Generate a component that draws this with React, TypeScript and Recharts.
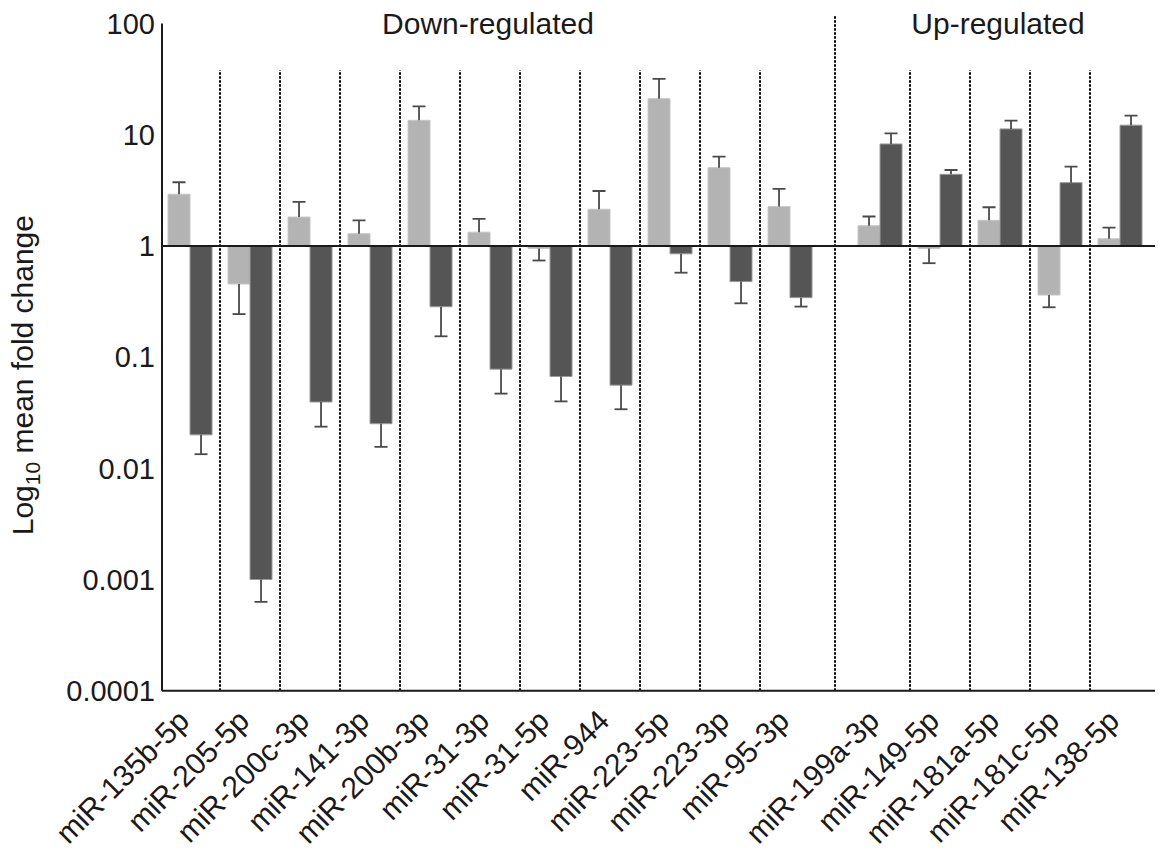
import React from 'react';
import { ComposedChart, Bar, XAxis, YAxis, ReferenceLine, ReferenceArea } from 'recharts';

// miRNAs grouped by direction of regulation
const downRegulated = [
  'miR-135b-5p', 'miR-205-5p', 'miR-200c-3p', 'miR-141-3p', 'miR-200b-3p', 'miR-31-3p',
  'miR-31-5p', 'miR-944', 'miR-223-5p', 'miR-223-3p', 'miR-95-3p',
];
const upRegulated = ['miR-199a-3p', 'miR-149-5p', 'miR-181a-5p', 'miR-181c-5p', 'miR-138-5p'];

// mean fold change and SEM, first (light) series
const lightMean = [2.92, 0.455, 1.82, 1.29, 13.5, 1.33, 0.95, 2.14, 21.1, 5.06, 2.26, 1.52, 0.95, 1.7, 0.362, 1.16];
const lightSem = [0.82, 0.211, 0.67, 0.41, 4.5, 0.42, 0.21, 0.98, 10.7, 1.29, 1.0, 0.32, 0.25, 0.53, 0.081, 0.3];

// mean fold change and SEM, second (dark) series
const darkMean = [0.02, 0.001, 0.0395, 0.0252, 0.284, 0.078, 0.067, 0.056, 0.85, 0.478, 0.343, 8.27, 4.41, 11.3, 3.71, 12.2];
const darkSem = [0.0066, 0.00037, 0.0158, 0.0096, 0.13, 0.031, 0.027, 0.022, 0.275, 0.173, 0.058, 2.03, 0.41, 2.1, 1.46, 2.7];

const yTicks = [0.0001, 0.001, 0.01, 0.1, 1, 10, 100];

const categories = [...downRegulated, ...upRegulated];
const GROUP_GAP = 0.5;
const BASELINE = 1;
const DIVIDER_TOP = 38;
const GROUP_DIVIDER_TOP = 120;

const FONT = '"Liberation Sans", Arial, Helvetica, sans-serif';
const INK = '#1a1a1a';

const span = (a: number, b: number) => [Math.min(a, b), Math.max(a, b)];
const errEnd = (m: number, s: number) => (m >= BASELINE ? m + s : m - s);

const rows = categories.map((name, i) => {
  const pos = i < downRegulated.length ? i : i + GROUP_GAP;
  const a = lightMean[i];
  const b = darkMean[i];
  return {
    name,
    pos,
    lightBar: span(a, BASELINE),
    darkBar: span(b, BASELINE),
    lightErr: span(a, errEnd(a, lightSem[i])),
    darkErr: span(b, errEnd(b, darkSem[i])),
    lightUp: a >= BASELINE,
    darkUp: b >= BASELINE,
  };
});

const positions = rows.map((r) => r.pos);
const nameByPos = new Map(rows.map((r) => [r.pos, r.name]));
const dividers = positions.slice(1).map((p, i) => ({
  x: (positions[i] + p) / 2,
  tall: i + 1 === downRegulated.length,
}));

const xDomain = [-0.467, 16.083];

const makeWhisker = (upKey: 'lightUp' | 'darkUp') => (props: any) => {
  const { x, y, width, height, payload } = props;
  if (x == null || y == null) return <g />;
  const top = Math.min(y, y + height);
  const bottom = Math.max(y, y + height);
  const cx = x + width / 2;
  const up = payload && payload[upKey];
  const capY = up ? top : bottom;
  const startY = up ? bottom : top;
  return (
    <g stroke="#4a4a4a" strokeWidth={1.8}>
      <line x1={cx} x2={cx} y1={startY} y2={capY} />
      <line x1={cx - 6.5} x2={cx + 6.5} y1={capY} y2={capY} />
    </g>
  );
};

const CategoryTick = (props: any) => {
  const { x, y, payload } = props;
  const name = nameByPos.get(payload.value) ?? '';
  const ax = x + 1;
  const ay = y + 32;
  return (
    <text
      x={ax}
      y={ay}
      transform={`rotate(-45, ${ax}, ${ay})`}
      textAnchor="end"
      fontFamily={FONT}
      fontSize={30}
      fill={INK}
    >
      {name}
    </text>
  );
};

const GroupTitle = (text: string) => (props: any) => {
  const vb = props.viewBox || {};
  return (
    <text
      x={vb.x + vb.width / 2 - 2}
      y={vb.y + 10}
      textAnchor="middle"
      fontFamily={FONT}
      fontSize={30}
      fill={INK}
    >
      {text}
    </text>
  );
};

const YTitle = (props: any) => {
  const vb = props.viewBox || {};
  const cx = vb.x + 33;
  const cy = vb.y + vb.height / 2 + 18;
  return (
    <text
      x={cx}
      y={cy}
      transform={`rotate(-90, ${cx}, ${cy})`}
      textAnchor="middle"
      fontFamily={FONT}
      fontSize={30}
      fill={INK}
    >
      Log
      <tspan fontSize={21} dy={7}>10</tspan>
      <tspan dy={-7}> mean fold change</tspan>
    </text>
  );
};

export default function App() {
  return (
    <div style={{ position: 'absolute', left: 0, top: 0, background: '#fff' }}>
      <ComposedChart
        width={1158}
        height={852}
        data={rows}
        margin={{ top: 23.6, right: 3, left: 0, bottom: 121.3 }}
        barGap={0}
      >
        <XAxis
          dataKey="pos"
          type="number"
          domain={xDomain}
          allowDataOverflow
          ticks={positions}
          interval={0}
          tickLine={false}
          tickSize={0}
          tickMargin={0}
          height={40}
          axisLine={{ stroke: INK, strokeWidth: 2 }}
          tick={<CategoryTick />}
        />
        <XAxis
          xAxisId="err"
          dataKey="pos"
          type="number"
          domain={xDomain}
          allowDataOverflow
          ticks={positions}
          hide
        />
        <YAxis
          scale="log"
          type="number"
          domain={[0.0001, 100]}
          allowDataOverflow
          ticks={yTicks}
          interval={0}
          width={162}
          tickLine={false}
          tickSize={5}
          tickMargin={2}
          axisLine={{ stroke: INK, strokeWidth: 2 }}
          tick={{ fontFamily: FONT, fontSize: 29, fill: INK }}
          tickFormatter={(v: number) => String(v)}
          label={YTitle}
        />

        {dividers.map((d) => (
          <ReferenceLine
            key={`div-${d.x}`}
            segment={[
              { x: d.x, y: 0.0001 },
              { x: d.x, y: d.tall ? GROUP_DIVIDER_TOP : DIVIDER_TOP },
            ]}
            ifOverflow="visible"
            stroke="#000"
            strokeWidth={2}
            strokeDasharray="2.5 1.5"
          />
        ))}

        <ReferenceArea
          x1={-0.5}
          x2={downRegulated.length - 0.5}
          y1={40}
          y2={100}
          fill="none"
          stroke="none"
          ifOverflow="visible"
          label={GroupTitle('Down-regulated')}
        />
        <ReferenceArea
          x1={downRegulated.length + GROUP_GAP - 0.5}
          x2={categories.length + GROUP_GAP - 0.5}
          y1={40}
          y2={100}
          fill="none"
          stroke="none"
          ifOverflow="visible"
          label={GroupTitle('Up-regulated')}
        />

        <Bar dataKey="lightBar" barSize={22} fill="#b3b3b3" stroke="#c6c6c6" strokeWidth={1} isAnimationActive={false} />
        <Bar dataKey="darkBar" barSize={22} fill="#555555" stroke="#9a9a9a" strokeWidth={1} isAnimationActive={false} />
        <Bar xAxisId="err" dataKey="lightErr" barSize={22} shape={makeWhisker('lightUp')} isAnimationActive={false} />
        <Bar xAxisId="err" dataKey="darkErr" barSize={22} shape={makeWhisker('darkUp')} isAnimationActive={false} />

        <ReferenceLine y={BASELINE} stroke={INK} strokeWidth={2} />
      </ComposedChart>
    </div>
  );
}
